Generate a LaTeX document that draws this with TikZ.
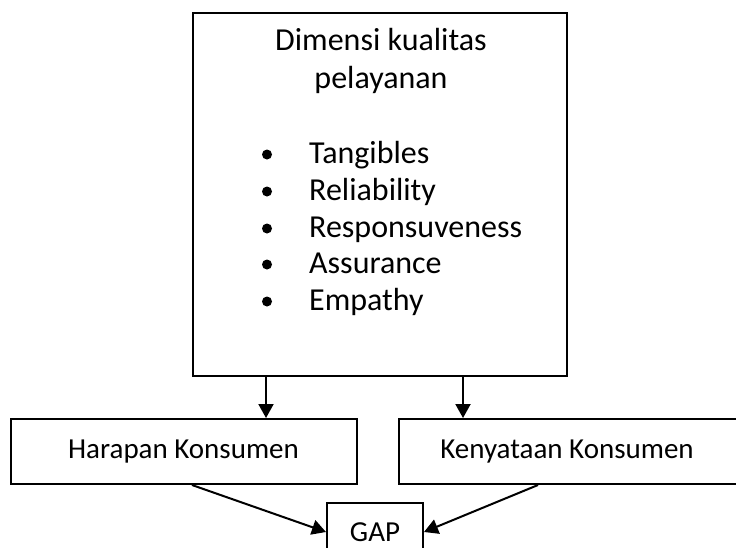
\documentclass[tikz,border=0pt]{standalone}
\usepackage{fontspec}
\setmainfont{Carlito}
\usetikzlibrary{arrows.meta}
\tikzset{
  boxline/.style={draw=black, line width=2pt},
  txt/.style={anchor=base, inner sep=0pt, font=\fontsize{29}{35}\selectfont},
  bigtxt/.style={txt, font=\fontsize{32}{38}\selectfont},
  bul/.style={circle, fill=black, inner sep=0pt, minimum size=10pt},
  arr/.style={line width=2pt, -{Triangle[length=14pt,width=15pt]}},
}
\begin{document}
\begin{tikzpicture}[x=1pt,y=-1pt]
\useasboundingbox (0,0) rectangle (736,547);
% top box
\node[boxline, minimum width=374pt, minimum height=363pt, inner sep=0pt] (top) at (380,194.5) {};
\node[bigtxt] (t1) at (381,50) {Dimensi kualitas};
\node[bigtxt] (t2) at (381,88) {pelayanan};
\foreach \i/\y/\w in {1/163/Tangibles,2/200/Reliability,3/237/Responsuveness,4/273/Assurance,5/310/Empathy}{
  \node[bul] (b\i) at (267,\y-8.5) {};
  \node[bigtxt, anchor=base west] (l\i) at (309,\y) {\w};
}
% lower boxes
\node[boxline, minimum width=346pt, minimum height=65pt, inner sep=0pt] (har) at (184,451.5) {};
\node[txt] (hart) at (183.5,458) {Harapan Konsumen};
\node[boxline, minimum width=338pt, minimum height=65pt, inner sep=0pt] (ken) at (568,451.5) {};
\node[txt] (kent) at (567,458) {Kenyataan Konsumen};
\node[boxline, minimum width=96pt, minimum height=58pt, inner sep=0pt] (gap) at (375,532) {};
\node[txt] (gapt) at (375,541) {GAP};
% arrows
\draw[arr] (top.south -| 266,0) -- (har.north -| 266,0);
\draw[arr] (top.south -| 463,0) -- (ken.north -| 463,0);
\draw[arr] (har.south -| 192,0) -- (gap.west);
\draw[arr] (ken.south -| 538,0) -- (gap.east);
\end{tikzpicture}
\end{document}
